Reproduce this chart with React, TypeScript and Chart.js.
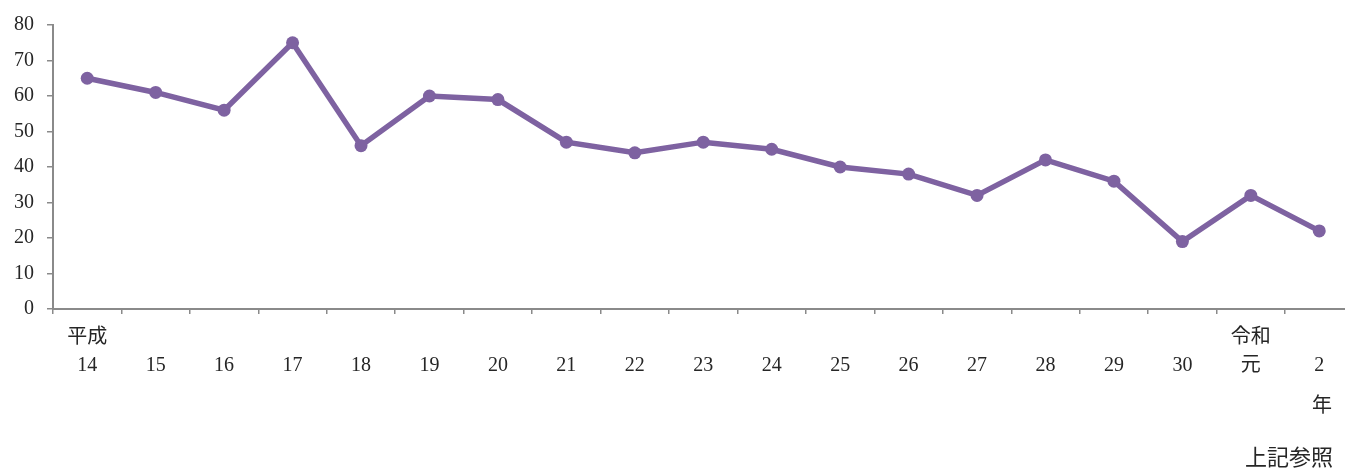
import React, { useEffect, useRef } from "react";
import { Chart, registerables } from "chart.js";

Chart.register(...registerables);

const categories: string[][] = [
  ["平成", "14"], ["", "15"], ["", "16"], ["", "17"], ["", "18"], ["", "19"], ["", "20"],
  ["", "21"], ["", "22"], ["", "23"], ["", "24"], ["", "25"], ["", "26"], ["", "27"],
  ["", "28"], ["", "29"], ["", "30"], ["令和", "元"], ["", "2"],
];
const values: number[] = [65, 61, 56, 75, 46, 60, 59, 47, 44, 47, 45, 40, 38, 32, 42, 36, 19, 32, 22];
const yTicks: number[] = [0, 10, 20, 30, 40, 50, 60, 70, 80];
const unitLabel = "年";
const noteLabel = "上記参照";

const FONT = "'Liberation Serif', 'DejaVu Serif', 'Noto Sans CJK JP', serif";
const LINE = "#7E62A1";
const AXIS = "#8a8a8a";
const TEXT = "#262626";

export default function App() {
  const ref = useRef<HTMLCanvasElement | null>(null);
  useEffect(() => {
    if (!ref.current) return;
    const chart = new Chart(ref.current, {
      type: "line",
      data: {
        labels: categories,
        datasets: [
          {
            data: values,
            borderColor: LINE,
            backgroundColor: LINE,
            borderWidth: 5.5,
            pointRadius: 6.5,
            pointBorderWidth: 0,
            pointBackgroundColor: LINE,
            tension: 0,
          },
        ],
      },
      options: {
        responsive: false,
        animation: false,
        layout: { padding: { top: 12, right: 5.5, bottom: 0, left: 0 } },
        plugins: { legend: { display: false }, tooltip: { enabled: false } },
        scales: {
          x: {
            type: "category",
            offset: true,
            grid: {
              display: true,
              offset: true,
              drawOnChartArea: false,
              drawTicks: true,
              tickLength: 5,
              color: AXIS,
              lineWidth: 1.5,
            },
            border: { display: true, color: AXIS, width: 2 },
            ticks: {
              color: TEXT,
              font: { family: FONT, size: 20, lineHeight: 1.4 },
              padding: 10,
              maxRotation: 0,
              autoSkip: false,
            },
            afterFit: (s: any) => {
              s.height = 160;
            },
          },
          y: {
            min: 0,
            max: 80,
            afterBuildTicks: (s: any) => {
              s.ticks = yTicks.map((v) => ({ value: v }));
            },
            grid: {
              display: true,
              drawOnChartArea: false,
              drawTicks: true,
              tickLength: 6,
              color: AXIS,
              lineWidth: 1.5,
            },
            border: { display: true, color: AXIS, width: 2 },
            ticks: {
              color: TEXT,
              font: { family: FONT, size: 20 },
              padding: 13,
            },
            afterFit: (s: any) => {
              s.width = 53;
            },
          },
        },
      },
    });
    return () => chart.destroy();
  }, []);

  return (
    <div
      style={{
        position: "fixed",
        left: 0,
        top: 0,
        width: 1345,
        height: 469,
        overflow: "hidden",
        background: "#fff",
      }}
    >
      <canvas ref={ref} width={1360} height={469} style={{ display: "block" }} />
      <div
        style={{
          position: "absolute",
          left: 1312,
          top: 392,
          fontFamily: FONT,
          fontSize: 20,
          color: TEXT,
          lineHeight: "26px",
        }}
      >
        {unitLabel}
      </div>
      <div
        style={{
          position: "absolute",
          left: 1245,
          top: 444,
          fontFamily: FONT,
          fontSize: 22,
          color: TEXT,
          lineHeight: "28px",
          whiteSpace: "nowrap",
        }}
      >
        {noteLabel}
      </div>
    </div>
  );
}
